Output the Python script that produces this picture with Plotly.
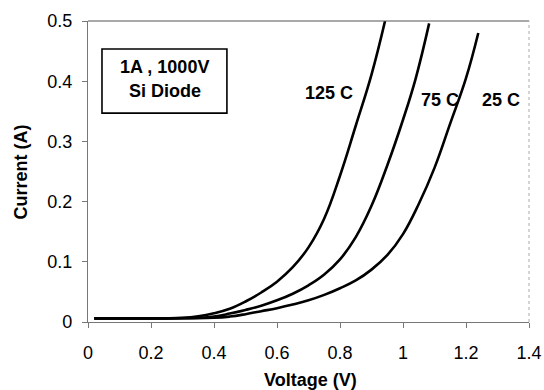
import plotly.graph_objects as go

# Data
v_125 = [0.02, 0.15, 0.30, 0.35, 0.40, 0.45, 0.50, 0.55, 0.60, 0.65, 0.70, 0.75, 0.80, 0.85, 0.90, 0.943]
i_125 = [0.006, 0.006, 0.007, 0.0095, 0.0145, 0.022, 0.034, 0.049, 0.067, 0.091, 0.124, 0.172, 0.243, 0.326, 0.411, 0.500]

v_75 = [0.02, 0.20, 0.35, 0.40, 0.45, 0.50, 0.55, 0.60, 0.65, 0.70, 0.75, 0.80, 0.85, 0.90, 0.95, 1.00, 1.04, 1.083]
i_75 = [0.006, 0.006, 0.007, 0.009, 0.014, 0.020, 0.027, 0.036, 0.047, 0.061, 0.079, 0.104, 0.141, 0.193, 0.260, 0.336, 0.404, 0.496]

v_25 = [0.02, 0.20, 0.40, 0.45, 0.50, 0.55, 0.60, 0.65, 0.70, 0.75, 0.80, 0.85, 0.90, 0.95, 1.00, 1.05, 1.10, 1.15, 1.20, 1.239]
i_25 = [0.006, 0.006, 0.007, 0.009, 0.013, 0.018, 0.023, 0.029, 0.036, 0.045, 0.056, 0.069, 0.087, 0.111, 0.146, 0.196, 0.256, 0.330, 0.405, 0.480]

x_ticks = [0, 0.2, 0.4, 0.6, 0.8, 1.0, 1.2, 1.4]
x_tick_labels = ["0", "0.2", "0.4", "0.6", "0.8", "1", "1.2", "1.4"]
y_ticks = [0, 0.1, 0.2, 0.3, 0.4, 0.5]
y_tick_labels = ["0", "0.1", "0.2", "0.3", "0.4", "0.5"]

series = [("125 C", v_125, i_125), ("75 C", v_75, i_75), ("25 C", v_25, i_25)]
label_pos = {"125 C": (0.765, 0.380), "75 C": (1.119, 0.369), "25 C": (1.31, 0.369)}

FONT = "Liberation Sans, Arial, sans-serif"
FS = 18

fig = go.Figure()
for name, v, i in series:
    fig.add_trace(go.Scatter(x=v, y=i, mode="lines", name=name,
                             line=dict(color="black", width=2.6, shape="spline", smoothing=1.2),
                             showlegend=False))
    lx, ly = label_pos[name]
    fig.add_annotation(x=lx, y=ly, text="<b>%s</b>" % name, showarrow=False,
                       xanchor="center", yanchor="middle",
                       font=dict(family=FONT, size=FS, color="black"))

# text box
fig.add_shape(type="rect", xref="x", yref="y", x0=0.0444, x1=0.441, y0=0.347, y1=0.4535,
              line=dict(color="black", width=1.6), fillcolor="white", layer="below")
fig.add_annotation(x=0.244, y=0.4236, text="<b>1A , 1000V</b>", showarrow=False,
                   xanchor="center", yanchor="middle",
                   font=dict(family=FONT, size=FS, color="black"))
fig.add_annotation(x=0.244, y=0.3837, text="<b>Si Diode</b>", showarrow=False,
                   xanchor="center", yanchor="middle",
                   font=dict(family=FONT, size=FS, color="black"))

# axis titles
fig.add_annotation(xref="paper", yref="paper", x=0.5045, y=-0.193, text="<b>Voltage (V)</b>",
                   showarrow=False, xanchor="center", yanchor="middle",
                   font=dict(family=FONT, size=FS, color="black"))
fig.add_annotation(xref="paper", yref="paper", x=-0.151, y=0.498, text="<b>Current (A)</b>",
                   showarrow=False, textangle=-90, xanchor="center", yanchor="middle",
                   font=dict(family=FONT, size=FS, color="black"))

# top border and faint right border
fig.add_shape(type="line", xref="paper", yref="paper", x0=0, x1=1, y0=1, y1=1,
              line=dict(color="#555555", width=1.2))
fig.add_shape(type="line", xref="paper", yref="paper", x0=1, x1=1, y0=0, y1=1,
              line=dict(color="#aaaaaa", width=1, dash="dot"))

fig.update_xaxes(range=[0, 1.4], tickvals=x_ticks, ticktext=x_tick_labels, automargin=False,
                 showgrid=False, zeroline=False, showline=True, linecolor="#777777", linewidth=1.3,
                 ticks="outside", ticklen=5, tickcolor="#777777", ticklabelstandoff=9,
                 tickfont=dict(family=FONT, size=FS, color="black"))
fig.update_yaxes(range=[0, 0.5], tickvals=y_ticks, ticktext=y_tick_labels, automargin=False,
                 showgrid=False, zeroline=False, showline=True, linecolor="#777777", linewidth=1.3,
                 ticks="outside", ticklen=5, tickcolor="#777777", ticklabelstandoff=6,
                 tickfont=dict(family=FONT, size=FS, color="black"))

fig.update_layout(width=544, height=390, margin=dict(l=88, r=15, t=21, b=68),
                  plot_bgcolor="white", paper_bgcolor="white")

fig.write_html("out.html", config={"displayModeBar": False},
               post_script="document.body.style.margin='0px';document.body.style.overflow='hidden';")
